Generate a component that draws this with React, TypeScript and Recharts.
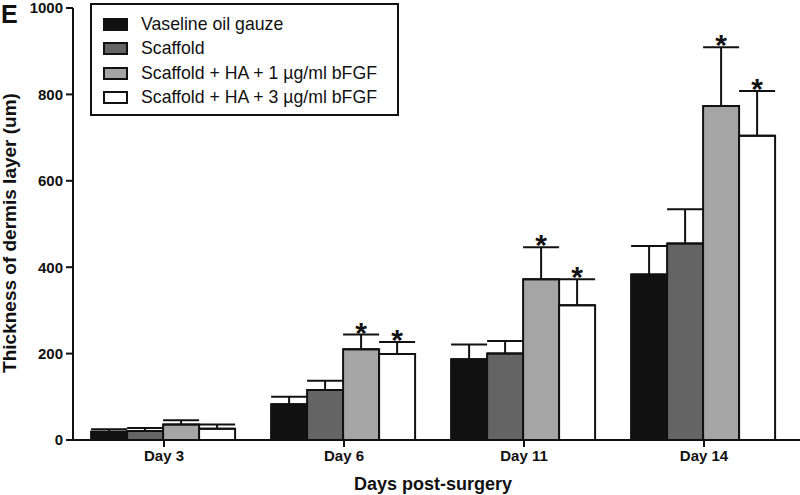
import React from 'react';
import { BarChart, Bar, XAxis, YAxis, ErrorBar, LabelList } from 'recharts';

const days = ['Day 3', 'Day 6', 'Day 11', 'Day 14'];

const vaseline = [19, 83, 187, 383];
const vaselineErr = [6, 17, 34, 66];
const scaffold = [21, 116, 200, 455];
const scaffoldErr = [7, 21, 29, 79];
const ha1 = [36, 210, 372, 773];
const ha1Err = [10, 34, 74, 136];
const ha3 = [26, 199, 312, 704];
const ha3Err = [10, 28, 60, 104];

const ha1Sig = [false, true, true, true];
const ha3Sig = [false, true, true, true];

const yTicks = [0, 200, 400, 600, 800, 1000];

const series = [
  { key: 'vaseline', name: 'Vaseline oil gauze', fill: '#111111', err: vaselineErr, sig: null },
  { key: 'scaffold', name: 'Scaffold', fill: '#646464', err: scaffoldErr, sig: null },
  { key: 'ha1', name: 'Scaffold + HA + 1 µg/ml bFGF', fill: '#a5a5a5', err: ha1Err, sig: ha1Sig },
  { key: 'ha3', name: 'Scaffold + HA + 3 µg/ml bFGF', fill: '#ffffff', err: ha3Err, sig: ha3Sig },
];

const data = days.map((day, i) => ({
  day,
  vaseline: vaseline[i],
  scaffold: scaffold[i],
  ha1: ha1[i],
  ha3: ha3[i],
  vaselineE: [0, vaselineErr[i]],
  scaffoldE: [0, scaffoldErr[i]],
  ha1E: [0, ha1Err[i]],
  ha3E: [0, ha3Err[i]],
}));

const FONT = 'Liberation Sans, Arial, Helvetica, sans-serif';

// asterisk drawn above the error bar cap
const starLabel = (err: number[], sig: boolean[]) => (props: any) => {
  const { x, y, width, height, value, index } = props;
  if (!sig[index] || !value) return null;
  const capY = y - (err[index] * height) / value;
  return (
    <text x={x + width / 2} y={capY + 8} textAnchor="middle" fontFamily={FONT} fontWeight="bold" fontSize={30} fill="#111">
      *
    </text>
  );
};

const LegendBox = () => (
  <div style={{ position: 'absolute', left: 90, top: 3, border: '2px solid #111', width: 309, height: 113, boxSizing: 'border-box', background: '#fff', paddingTop: 7 }}>
    {series.map((s) => (
      <div key={s.key} style={{ display: 'flex', alignItems: 'center', height: 24.5, fontFamily: FONT, fontSize: 17.7, color: '#111' }}>
        <div style={{ width: 25, height: 13, marginLeft: 11, marginRight: 13, background: s.fill, border: '2px solid #111', boxSizing: 'border-box' }} />
        <span>{s.name}</span>
      </div>
    ))}
  </div>
);

export default function App() {
  return (
    <div style={{ position: 'absolute', left: 0, top: 0, width: 800, height: 495, background: '#fff' }}>
      <BarChart width={800} height={495} data={data} margin={{ top: 8, right: 0, left: 0, bottom: 0 }} barCategoryGap="9.5%" barGap={0}>
        <XAxis
          dataKey="day"
          height={55}
          padding={{ left: 1, right: 6 }}
          axisLine={{ stroke: '#111', strokeWidth: 2 }}
          tickLine={{ stroke: '#111', strokeWidth: 2 }}
          tickSize={7}
          tick={{ fontFamily: FONT, fontWeight: 'bold', fontSize: 15, fill: '#111' }}
          tickMargin={3}
        />
        <YAxis
          width={73}
          domain={[0, 1000]}
          ticks={yTicks}
          interval={0}
          axisLine={{ stroke: '#111', strokeWidth: 2 }}
          tickLine={{ stroke: '#111', strokeWidth: 2 }}
          tickSize={7}
          tick={{ fontFamily: FONT, fontWeight: 'bold', fontSize: 15, fill: '#111' }}
          tickMargin={3}
        />
        {series.map((s) => (
          <Bar key={s.key} dataKey={s.key} name={s.name} fill={s.fill} stroke="#111" strokeWidth={2} isAnimationActive={false}>
            <ErrorBar dataKey={`${s.key}E`} direction="y" width={18} stroke="#111" strokeWidth={2} />
            {s.sig && <LabelList dataKey={s.key} content={starLabel(s.err, s.sig)} />}
          </Bar>
        ))}
        <text x={1} y={23} fontFamily={FONT} fontWeight="bold" fontSize={25} fill="#111">E</text>
        <text
          x={9}
          y={233}
          transform="rotate(-90 9 233)"
          textAnchor="middle"
          dominantBaseline="central"
          fontFamily={FONT}
          fontWeight="bold"
          fontSize={19}
          fill="#111"
        >
          Thickness of dermis layer (um)
        </text>
        <text x={433} y={490} textAnchor="middle" fontFamily={FONT} fontWeight="bold" fontSize={18} fill="#111">
          Days post-surgery
        </text>
      </BarChart>
      <LegendBox />
    </div>
  );
}
